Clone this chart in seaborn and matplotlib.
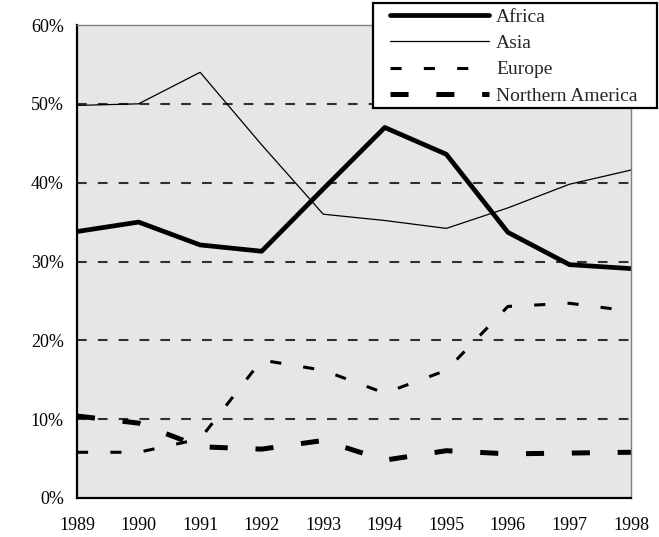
import matplotlib
matplotlib.use("Agg")
import matplotlib.pyplot as plt
from matplotlib.patches import Rectangle
import seaborn as sns
import pandas as pd
from matplotlib.ticker import FuncFormatter

years = [1989, 1990, 1991, 1992, 1993, 1994, 1995, 1996, 1997, 1998]
africa = [33.8, 35.0, 32.1, 31.3, 39.2, 47.0, 43.6, 33.7, 29.6, 29.1]
asia = [49.8, 50.0, 54.0, 44.8, 36.0, 35.2, 34.2, 36.8, 39.8, 41.6]
europe = [5.8, 5.8, 7.5, 17.5, 16.2, 13.3, 16.2, 24.3, 24.7, 23.7]
northern_america = [10.4, 9.5, 6.5, 6.2, 7.3, 4.8, 6.0, 5.6, 5.7, 5.8]
series_names = ["Africa", "Asia", "Europe", "Northern America"]
y_ticks = [0, 10, 20, 30, 40, 50, 60]

sns.set_style("white")
plt.rcParams["font.family"] = ["Liberation Serif", "DejaVu Serif"]
plt.rcParams["lines.scale_dashes"] = False

df = pd.DataFrame({
    "year": years * 4,
    "value": africa + asia + europe + northern_america,
    "region": sum([[n] * len(years) for n in series_names], []),
})

fig = plt.figure(figsize=(6.59, 5.37), dpi=100)
ax = fig.add_axes([77 / 659, 1 - 498 / 537, (631 - 77) / 659, (498 - 25) / 537])
ax.set_facecolor("#e6e6e6")

styles = {
    "Africa": dict(lw=3.4, ls="-"),
    "Asia": dict(lw=0.9, ls="-"),
    "Europe": dict(lw=2.2, ls=(0, (8, 16))),
    "Northern America": dict(lw=3.6, ls=(0, (13, 20))),
}

handles = []
for name in series_names:
    sub = df[df["region"] == name]
    sns.lineplot(data=sub, x="year", y="value", ax=ax, color="black",
                 linewidth=styles[name]["lw"], linestyle=styles[name]["ls"],
                 label=name, legend=False)
    handles.append(ax.lines[-1])

# gridlines
for v in y_ticks[1:-1]:
    ax.axhline(v, color="#303030", lw=1.5, ls=(0, (7, 8)), zorder=0.5)

ax.set_xlim(years[0], years[-1])
ax.set_ylim(0, 60)
ax.set_xticks(years)
ax.set_yticks(y_ticks)
ax.yaxis.set_major_formatter(FuncFormatter(lambda v, p: f"{int(v)}%"))
ax.set_xlabel("")
ax.set_ylabel("")
ax.tick_params(axis="both", direction="inout", length=9, width=1.3,
               labelsize=13, colors="black", pad=5)
ax.tick_params(axis="x", pad=9)

for s in ["left", "bottom"]:
    ax.spines[s].set_color("black")
    ax.spines[s].set_linewidth(1.6)
for s in ["top", "right"]:
    ax.spines[s].set_color("#808080")
    ax.spines[s].set_linewidth(1.0)

# legend box
box = Rectangle((373 / 659, 1 - 108 / 537), 284 / 659, 105 / 537,
                transform=fig.transFigure, facecolor="white",
                edgecolor="black", lw=1.6, zorder=5)
fig.patches.append(box)

leg = fig.legend(handles, series_names, loc="upper left",
                 bbox_to_anchor=(390 / 659, 1 - 8 / 537), fontsize=14,
                 frameon=False, handlelength=5.1, labelspacing=0.45,
                 borderpad=0, handletextpad=0.35, borderaxespad=0)
leg.set_zorder(6)

fig.savefig("out.png", dpi=100)
